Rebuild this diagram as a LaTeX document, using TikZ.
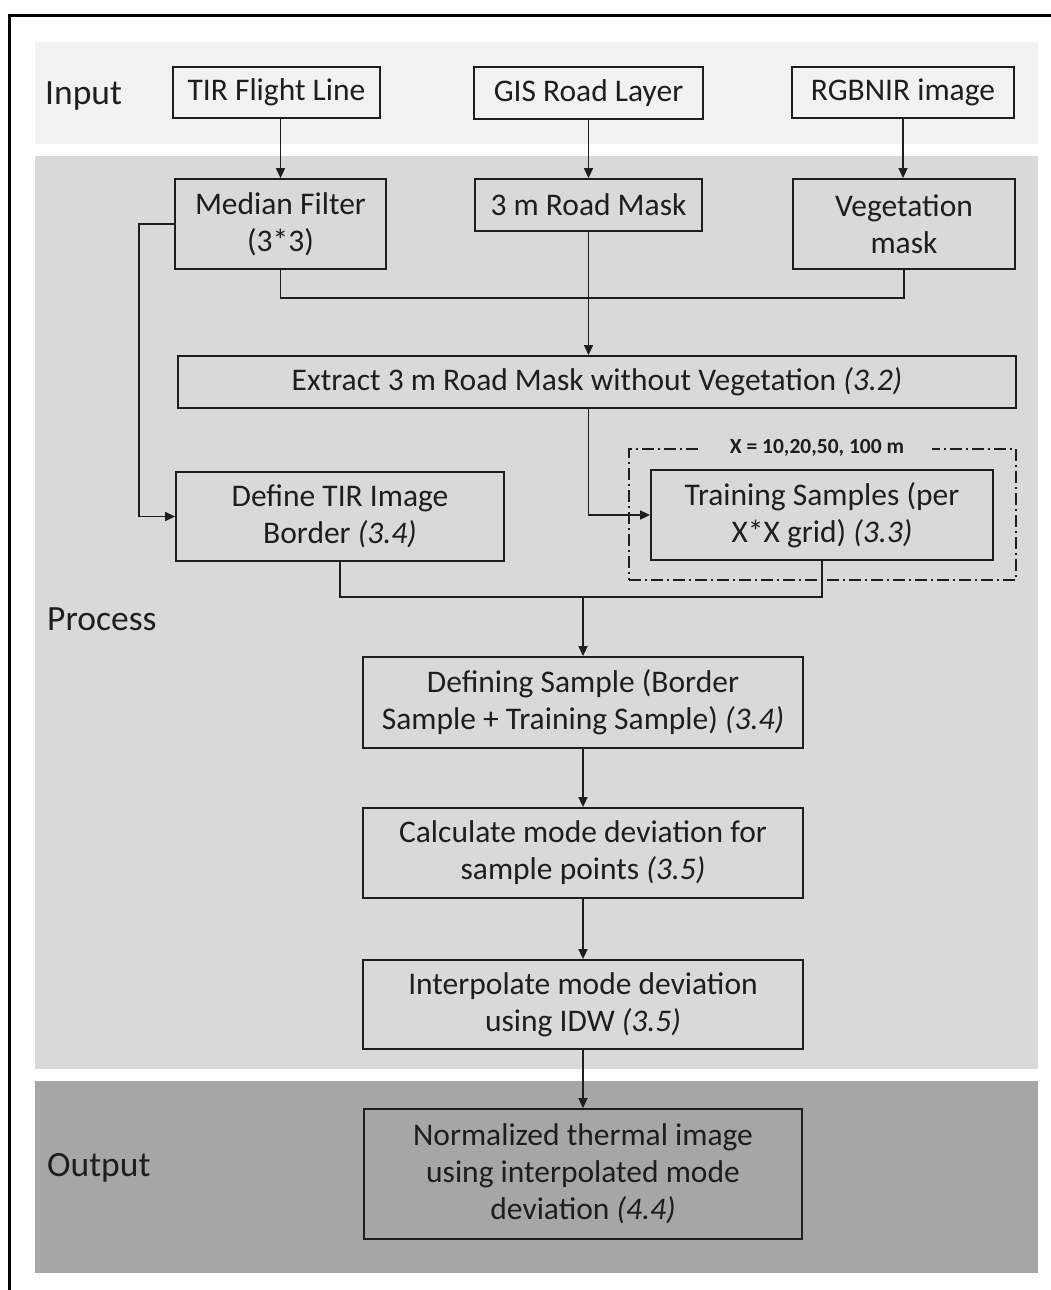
\documentclass[tikz,border=0pt]{standalone}
\usepackage{fontspec}
\setmainfont{Carlito}
\usetikzlibrary{arrows.meta}
\definecolor{inbg}{HTML}{F2F2F2}
\definecolor{procbg}{HTML}{D9D9D9}
\definecolor{outbg}{HTML}{A6A6A6}
\definecolor{ink}{HTML}{1E1E1E}
\tikzset{
  stepbox/.style={draw=ink, line width=1.8pt, inner sep=0pt, align=center,
    text=ink, font=\fontsize{31.5}{37}\selectfont},
  conn/.style={draw=ink, line width=1.5pt},
  arr/.style={conn, -{Triangle[length=10pt,width=9pt]}},
  bandlabel/.style={anchor=west, text=ink, font=\fontsize{35.5}{42}\selectfont, inner sep=0pt},
  dashbox/.style={draw=ink, line width=1.5pt, dash pattern=on 12pt off 4pt on 2pt off 4pt}
}
\begin{document}
\begin{tikzpicture}[x=1pt,y=-1pt]
\useasboundingbox (0,0) rectangle (1050,1290);
\fill[white] (0,0) rectangle (1050,1290);
% outer frame (cropped at right and bottom)
\draw[black, line width=3pt] (9.5,1292) -- (9.5,15.5) -- (1052,15.5);
% bands
\fill[inbg] (35,42) rectangle (1038,144);
\fill[procbg] (35,156) rectangle (1038,1069);
\fill[outbg] (35,1081) rectangle (1038,1273);
% band labels
\node[bandlabel] (lin) at (45,96) {Input};
\node[bandlabel] (lproc) at (47,619) {Process};
\node[bandlabel] (lout) at (47,1168) {Output};
% input boxes
\node[stepbox, minimum width=207pt, minimum height=51pt] (tir) at (276.5,92.5) {TIR Flight Line};
\node[stepbox, minimum width=229pt, minimum height=52pt] (gis) at (588.5,93) {GIS Road Layer};
\node[stepbox, minimum width=222pt, minimum height=51pt] (rgb) at (903,92.5) {RGBNIR image};
% process boxes
\node[stepbox, minimum width=211pt, minimum height=90pt] (med) at (280.5,224) {Median Filter\\(3*3)};
\node[stepbox, minimum width=227pt, minimum height=52pt] (road) at (588.5,205) {3 m Road Mask};
\node[stepbox, minimum width=222pt, minimum height=90pt] (veg) at (904,224) {Vegetation\\mask};
\node[stepbox, minimum width=838pt, minimum height=52pt] (ext) at (597,382) {Extract 3 m Road Mask without Vegetation \textit{(3.2)}};
\node[stepbox, minimum width=328pt, minimum height=89pt] (def) at (340,516.5) {Define TIR Image\\Border \textit{(3.4)}};
\node[dashbox, minimum width=387pt, minimum height=131pt, inner sep=0pt] (grid) at (822.5,514.5) {};
\node[fill=procbg, inner xsep=28pt, inner ysep=1pt, text=ink, font=\bfseries\fontsize{21.5}{24}\selectfont] (glabel) at (817,448) {X = 10,20,50, 100 m};
\node[stepbox, minimum width=342pt, minimum height=90pt] (train) at (822,515) {Training Samples (per\\X*X grid) \textit{(3.3)}};
\node[stepbox, minimum width=440pt, minimum height=91pt] (defs) at (583,702.5) {Defining Sample (Border\\Sample + Training Sample) \textit{(3.4)}};
\node[stepbox, minimum width=440pt, minimum height=90pt] (calc) at (583,853) {Calculate mode deviation for\\sample points \textit{(3.5)}};
\node[stepbox, minimum width=440pt, minimum height=89pt] (interp) at (583,1004.5) {Interpolate mode deviation\\using IDW \textit{(3.5)}};
% output box
\node[stepbox, minimum width=438pt, minimum height=130pt] (norm) at (583,1174) {Normalized thermal image\\using interpolated mode\\deviation \textit{(4.4)}};
% junction coordinates
\coordinate (j1) at (588.5,298);
\coordinate (j2) at (583,597);
\coordinate (jl) at (139,224);
% connectors
\draw[arr] (med.north |- tir.south) -- (med.north);
\draw[arr] (gis.south) -- (road.north);
\draw[arr] (rgb.south) -- (rgb.south |- veg.north);
\draw[conn] (med.south) |- (j1) -| (veg.south);
\draw[arr, line width=1.1pt] (road.south) -- (road.south |- ext.north);
\draw[arr] (med.west) -- (jl) |- (def.west);
\draw[arr] (ext.south -| road.south) |- (train.west);
\draw[conn] (def.south) |- (j2) -| (train.south);
\draw[arr] (j2) -- (defs.north);
\draw[arr] (defs.south) -- (calc.north);
\draw[arr] (calc.south) -- (interp.north);
\draw[arr] (interp.south) -- (norm.north);
\end{tikzpicture}
\end{document}
